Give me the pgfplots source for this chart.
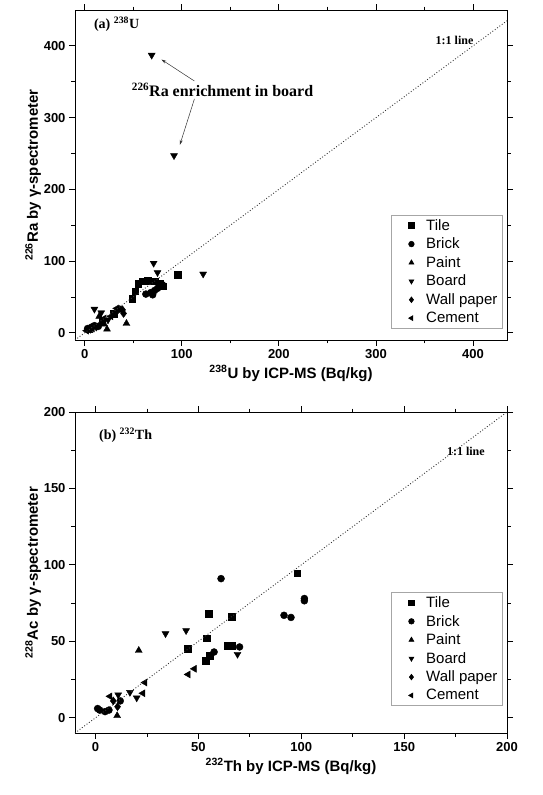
\documentclass[border=0pt]{standalone}
\usepackage{pgfplots}
\pgfplotsset{compat=1.18}
\usepackage{fontspec}
\setmainfont{Liberation Sans}
\newfontfamily\timesf{Liberation Serif}
\usetikzlibrary{arrows.meta}
\pgfplotsset{
  myaxis/.style={
    scale only axis, width=432pt,
    axis line style={line width=0.9pt},
    tick align=outside, major tick length=6pt, minor tick length=3.5pt,
    tick style={line width=0.8pt, black},
    minor tick num=1,
    /pgf/number format/assume math mode=true,
    tick label style={font=\bfseries\fontsize{13}{15}\selectfont},
    label style={font=\bfseries\fontsize{15}{17}\selectfont},
    legend cell align=left,
    legend style={font=\fontsize{15}{17}\selectfont, draw=gray!70, line width=0.6pt,
      inner xsep=3pt, inner ysep=2pt, row sep=2.2pt},
    legend image post style={mark size=2.8pt},
    clip mode=individual,
  },
  leg/.style={legend image code/.code={\path[draw=none,fill=none] (0,-0.1cm) rectangle (1.05cm,0.1cm); \draw[##1] plot coordinates {(0.6cm,0cm)};}},
  tile/.style={only marks, mark=square*, mark size=3.4pt, black, leg},
  brick/.style={only marks, mark=*, mark size=3.5pt, black, leg},
  paint/.style={only marks, mark=triangle*, mark size=4pt, black, leg},
  board/.style={only marks, mark=triangle*, mark size=4pt, black, mark options={rotate=180}, leg},
  wall/.style={only marks, mark=diamond*, mark size=4pt, black, leg},
  cement/.style={only marks, mark=triangle*, mark size=4pt, black, mark options={rotate=90}, leg},
}
\begin{document}
\begin{tikzpicture}
\begin{axis}[myaxis, height=330pt,
  at={(0,0)}, anchor=north west,
  xmin=-10, xmax=435, ymin=-10, ymax=450,
  xtick={0,100,200,300,400}, ytick={0,100,200,300,400},
  xlabel={\textsuperscript{238}U by ICP-MS (Bq/kg)},
  ylabel={\textsuperscript{226}Ra by γ-spectrometer},
  ylabel style={yshift=-4pt},
  legend style={at={(0.99,0.035)}, anchor=south east},
]
\addplot[tile] coordinates {(96,81) (55,68) (60,72) (65,73) (72,72) (77,69) (80,65) (52,58) (49,48) (30,27) (18,15)};
\addplot[brick] coordinates {(63,54) (68,56) (72,59) (75,62) (80,67) (70,53) (3,6) (7,8) (10,10) (14,9) (36,33)};
\addplot[paint] coordinates {(43,13) (23,5) (15,23) (5,3) (20,12)};
\addplot[board] coordinates {(69,387) (92,247) (71,97) (75,84) (122,82) (10,33) (24,18) (17,28)};
\addplot[wall] coordinates {(39,32) (40,27) (32,28) (12,8) (6,5)};
\addplot[cement] coordinates {(33,34) (27,23) (20,20) (8,6) (2,3)};
\legend{Tile,Brick,Paint,Board,Wall paper,Cement}
\addplot[dotted, black!80, line width=0.9pt, forget plot] coordinates {(-10,-10) (450,450)};
\node[anchor=west, font=\timesf\bfseries\fontsize{14}{16}\selectfont] at (axis cs:6,430) {(a) \textsuperscript{238}U};
\node[font=\timesf\bfseries\fontsize{12}{14}\selectfont] at (axis cs:381,408) {1:1 line};
\node[font=\timesf\bfseries\fontsize{16}{18}\selectfont] at (axis cs:142,339) {\textsuperscript{226}Ra enrichment in board};
\draw[gray!40!black, line width=0.5pt, -{Stealth[length=5pt,width=3pt]}] (axis cs:113,351) -- (axis cs:79,381);
\draw[gray!40!black, line width=0.5pt, -{Stealth[length=5pt,width=3pt]}] (axis cs:113,326) -- (axis cs:98,262);
\end{axis}
\begin{axis}[myaxis, height=321pt,
  at={(0,-402pt)}, anchor=north west,
  xmin=-10, xmax=200, ymin=-10, ymax=200,
  xtick={0,50,100,150,200}, ytick={0,50,100,150,200},
  xlabel={\textsuperscript{232}Th by ICP-MS (Bq/kg)},
  ylabel={\textsuperscript{228}Ac by γ-spectrometer},
  ylabel style={yshift=-4pt},
  legend style={at={(0.99,0.085)}, anchor=south east},
]
\addplot[tile] coordinates {(98,94.5) (55,68) (66,66) (54,52) (44.6,45) (64,47) (66,47) (55.6,40.5) (53.7,37.5)};
\addplot[brick] coordinates {(61,91) (101.5,78) (101.5,76.5) (91.6,67) (95,65.6) (70,46.3) (57.6,43) (12,11) (2,5) (4.6,4) (6.5,5) (1,6)};
\addplot[paint] coordinates {(21,44) (10.5,1.3)};
\addplot[board] coordinates {(34,55) (44,57) (69,41.5) (16.7,16.6) (20,13) (11,15)};
\addplot[wall] coordinates {(10.7,7.2) (8.6,11)};
\addplot[cement] coordinates {(45,28.3) (48,32) (24,23) (23,16) (7,14)};
\legend{Tile,Brick,Paint,Board,Wall paper,Cement}
\addplot[dotted, black!80, line width=0.9pt, forget plot] coordinates {(-10,-10) (200,200)};
\node[anchor=west, font=\timesf\bfseries\fontsize{14}{16}\selectfont] at (axis cs:0,185) {(b) \textsuperscript{232}Th};
\node[font=\timesf\bfseries\fontsize{12}{14}\selectfont] at (axis cs:180,174) {1:1 line};
\end{axis}
\pgfresetboundingbox
\path (-75pt,10pt) rectangle (468pt,-785pt);
\end{tikzpicture}
\end{document}
